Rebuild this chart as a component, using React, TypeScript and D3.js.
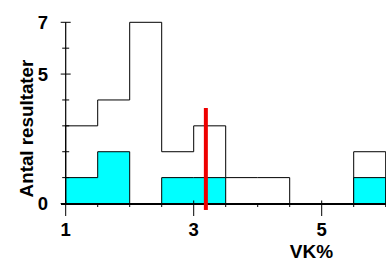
import React from "react";
import * as d3 from "d3";

const binEdges = [1, 1.5, 2, 2.5, 3, 3.5, 4, 4.5, 5, 5.5, 6];
const totalCounts = [3, 4, 7, 2, 3, 1, 1, 0, 0, 2];
const subsetCounts = [1, 2, 0, 1, 1, 0, 0, 0, 0, 1];
const yMajorTicks = [0, 5, 7];
const yMinorTicks = [1, 2, 3, 4, 6];
const xMajorTicks = [1, 3, 5];
const xMinorTicks = [1.5, 2, 2.5, 3.5, 4, 4.5, 5.5, 6];
const markerValue = 3.19;
const markerRange = [-0.25, 3.69];
const xTitle = "VK%";
const yTitle = "Antal resultater";

const W = 386;
const H = 264;
const FONT = "'Liberation Sans', Arial, sans-serif";

export default function App() {
  const x = d3.scaleLinear().domain([1, 5]).range([65.7, 321.7]);
  const y = d3.scaleLinear().domain([0, 7]).range([203.5, 22.3]);

  const outlinePts: [number, number][] = [[binEdges[0], 0]];
  totalCounts.forEach((c, i) => outlinePts.push([binEdges[i], c]));
  outlinePts.push([binEdges[binEdges.length - 1], totalCounts[totalCounts.length - 1]]);
  outlinePts.push([binEdges[binEdges.length - 1], 0]);

  const line = d3
    .line<[number, number]>()
    .x((d) => x(d[0]))
    .y((d) => y(d[1]))
    .curve(d3.curveStepAfter);

  const subsetPts: [number, number][] = subsetCounts.map((c, i) => [binEdges[i], c]);
  subsetPts.push([binEdges[binEdges.length - 1], subsetCounts[subsetCounts.length - 1]]);
  const area = d3
    .area<[number, number]>()
    .x((d) => x(d[0]))
    .y0(y(0))
    .y1((d) => y(d[1]))
    .curve(d3.curveStepAfter);

  const axisX = x(1);
  const axisY = y(0);

  return (
    <svg
      width={W}
      height={H}
      style={{ position: "absolute", left: 0, top: 0, background: "#fff" }}
    >
      <rect x={0} y={0} width={W} height={H} fill="#fff" />
      <path d={line(outlinePts) || ""} fill="none" stroke="#000" strokeWidth={1} />
      <path d={area(subsetPts) || ""} fill="#00ffff" stroke="#000" strokeWidth={1} />

      {/* y axis */}
      <line x1={axisX} x2={axisX} y1={y(7)} y2={axisY} stroke="#000" strokeWidth={1.2} />
      {yMinorTicks.map((t) => (
        <line key={"ym" + t} x1={axisX - 3.5} x2={axisX + 3.5} y1={y(t)} y2={y(t)} stroke="#000" strokeWidth={1} />
      ))}
      {yMajorTicks.map((t) => (
        <g key={"yM" + t}>
          <line x1={axisX - 5} x2={axisX + 5} y1={y(t)} y2={y(t)} stroke="#000" strokeWidth={1} />
          <text
            x={48}
            y={y(t)}
            dy="0.35em"
            textAnchor="end"
            fontFamily={FONT}
            fontWeight="bold"
            fontSize={18.5}
          >
            {t}
          </text>
        </g>
      ))}

      {/* x axis */}
      <line x1={61} x2={W} y1={axisY + 0.5} y2={axisY + 0.5} stroke="#000" strokeWidth={2} />
      {xMinorTicks.map((t) => (
        <line key={"xm" + t} x1={x(t)} x2={x(t)} y1={axisY} y2={axisY + 3.5} stroke="#000" strokeWidth={1} />
      ))}
      {xMajorTicks.map((t) => (
        <g key={"xM" + t}>
          <line x1={x(t)} x2={x(t)} y1={axisY - 3} y2={axisY + 12.5} stroke="#000" strokeWidth={1} />
          <text
            x={x(t)}
            y={235.5}
            textAnchor="middle"
            fontFamily={FONT}
            fontWeight="bold"
            fontSize={18.5}
          >
            {t}
          </text>
        </g>
      ))}

      {/* marker */}
      <line
        x1={x(markerValue)}
        x2={x(markerValue)}
        y1={y(markerRange[1])}
        y2={y(markerRange[0])}
        stroke="#ee0000"
        strokeWidth={4}
      />

      <text
        x={311.5}
        y={258}
        textAnchor="middle"
        fontFamily={FONT}
        fontWeight="bold"
        fontSize={19}
      >
        {xTitle}
      </text>
      <text
        transform={`translate(32.5,128.5) rotate(-90)`}
        textAnchor="middle"
        fontFamily={FONT}
        fontWeight="bold"
        fontSize={18.8}
      >
        {yTitle}
      </text>
    </svg>
  );
}
